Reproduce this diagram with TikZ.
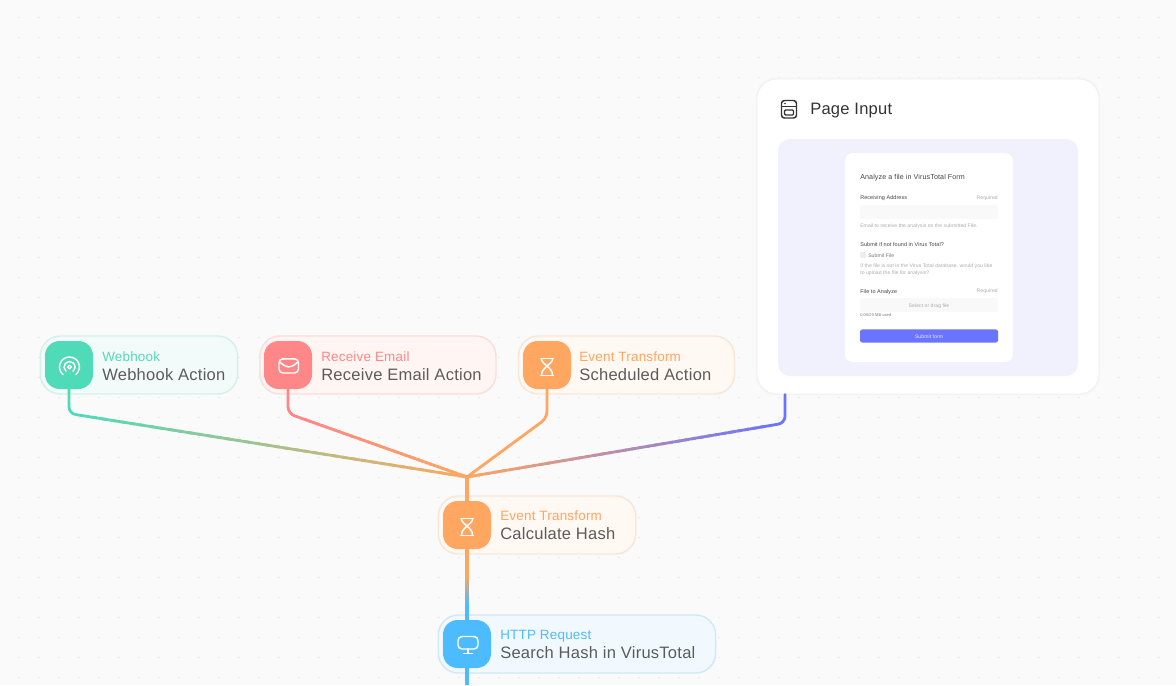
\documentclass[tikz,border=0pt]{standalone}
\usepackage{fontspec}
\usepackage{tikz}
\usetikzlibrary{calc}
\setmainfont[LetterSpace=1.5]{Liberation Sans}

\definecolor{pagebg}{HTML}{FAFAFA}
\definecolor{griddot}{HTML}{E8E8E8}
\definecolor{wirecol}{HTML}{6B74FF}
\definecolor{hookcol}{HTML}{50DBB8}
\definecolor{hookfill}{HTML}{F2FBFA}
\definecolor{hookedge}{HTML}{D5F0EA}
\definecolor{mailcol}{HTML}{FF8787}
\definecolor{mailfill}{HTML}{FFF5F3}
\definecolor{mailedge}{HTML}{FBDEDB}
\definecolor{timecol}{HTML}{FFA660}
\definecolor{timefill}{HTML}{FFF8F3}
\definecolor{timeedge}{HTML}{F8E6D8}
\definecolor{httpcol}{HTML}{4DBBFF}
\definecolor{httpfill}{HTML}{F1F9FE}
\definecolor{httpedge}{HTML}{CFE9F9}
\definecolor{namecol}{HTML}{5C5C5C}
\definecolor{panelcol}{HTML}{F1F1FD}
\definecolor{inputcol}{HTML}{F9F9F9}
\definecolor{hintcol}{HTML}{ABABAB}
\definecolor{labelcol}{HTML}{444444}

\tikzset{
  flowcard/.style={draw=#1edge, fill=#1fill, line width=1.1pt, rounded corners=15pt, inner sep=0pt, minimum height=43.5pt},
  flowicon/.style={fill=#1col, rounded corners=11pt, inner sep=0pt, minimum size=36pt},
  flowtitle/.style={text=#1col, anchor=base west, inner sep=0pt, font=\fontsize{10.1pt}{10pt}\selectfont},
  flowname/.style={text=namecol, anchor=base west, inner sep=0pt, font=\fontsize{12.4pt}{12pt}\selectfont},
  glyph/.style={draw=white, line width=1.1pt, line cap=round, line join=round},
  formtext/.style={inner sep=0pt, anchor=base west, text=labelcol, font=\fontsize{4.1pt}{4pt}\selectfont},
  formhint/.style={inner sep=0pt, anchor=base west, text=hintcol, font=\fontsize{3.8pt}{4pt}\selectfont},
  formbox/.style={fill=inputcol, rounded corners=1.2pt, inner sep=0pt, minimum width=103.5pt, minimum height=10.5pt},
  wire/.style={line width=2.1pt, line cap=round, line join=round},
  trunk/.style={line width=2.7pt, line cap=butt}
}

\newcommand\gradlink[4]{%
  \foreach \k in {0,...,39}{%
    \pgfmathsetmacro\pa{\k/40}%
    \pgfmathsetmacro\pb{min(1,(\k+1.5)/40)}%
    \pgfmathsetmacro\mixv{100*(\k+0.5)/40}%
    \draw [wire, line cap=butt, #4!\mixv!#3] ($(#1)!\pa!(#2)$) -- ($(#1)!\pb!(#2)$);
  }}
\newcommand\hourglass[1]{%
  \begin{scope}[shift={(#1)}]
    \draw [glyph] (-6.2,-8) -- (6.2,-8);
    \draw [glyph] (-6.2,9) -- (6.2,9);
    \draw [glyph] (-5.4,-8) -- (-5.4,-6.6) .. controls (-5.4,-3.5) and (5.4,2) .. (5.4,7.5) -- (5.4,9);
    \draw [glyph] (5.4,-8) -- (5.4,-6.6) .. controls (5.4,-3.5) and (-5.4,2) .. (-5.4,7.5) -- (-5.4,9);
  \end{scope}}

\begin{document}
\begin{tikzpicture}[x=0.75pt,y=-0.75pt]
  \fill [pagebg] (0,0) rectangle (1176,685);
  \useasboundingbox (0,0) rectangle (1176,685);
  \foreach \i in {0,...,58}
    \foreach \j in {0,...,33}
      \fill [griddot] (19+20*\i,17.5+20*\j) circle (0.8);

  \node (hookcard) [flowcard=hook, minimum width=148pt] at (139,365) {};
  \node (mailcard) [flowcard=mail, minimum width=177pt] at (378,365) {};
  \node (timecard) [flowcard=time, minimum width=162pt] at (626.5,365) {};
  \node (calccard) [flowcard=time, minimum width=148pt] at (537,525) {};
  \node (httpcard) [flowcard=http, minimum width=208pt] at (577,644) {};

  \node (hookicon) [flowicon=hook] at (69,365) {};
  \node (mailicon) [flowicon=mail] at (288,365) {};
  \node (timeicon) [flowicon=time] at (547,365) {};
  \node (calcicon) [flowicon=time] at (467,525) {};
  \node (httpicon) [flowicon=http] at (467,644) {};

  \node (hooktitle) [flowtitle=hook] at (102,361) {Webhook};
  \node (hookname) [flowname] at (102,380) {Webhook Action};
  \node (mailtitle) [flowtitle=mail] at (321,361) {Receive Email};
  \node (mailname) [flowname] at (321,380) {Receive Email Action};
  \node (timetitle) [flowtitle=time] at (579,361) {Event Transform};
  \node (timename) [flowname] at (579,380) {Scheduled Action};
  \node (calctitle) [flowtitle=time] at (500,520) {Event Transform};
  \node (calcname) [flowname] at (500,539) {Calculate Hash};
  \node (httptitle) [flowtitle=http] at (500,639) {HTTP Request};
  \node (httpname) [flowname] at (500,658) {Search Hash in VirusTotal};

  \draw [draw=black!4, line width=2.2pt, rounded corners=15pt] (757,79) rectangle (1099,394);
  \node (pagecard) [draw=black!6, fill=white, line width=0.6pt, rounded corners=15pt, inner sep=0pt, minimum width=256.5pt, minimum height=236.25pt] at (928,236.5) {};
  \node (pagepanel) [fill=panelcol, rounded corners=9pt, inner sep=0pt, minimum width=225pt, minimum height=177.75pt] at (928,257.5) {};
  \node (formcard) [fill=white, rounded corners=6pt, inner sep=0pt, minimum width=126pt, minimum height=156.75pt] at (929,257.5) {};
  \node (pagetitle) [anchor=base west, inner sep=0pt, text=black!80, font=\fontsize{12.4pt}{12pt}\selectfont] at (810,114) {Page Input};
  \draw [black!80, line width=1.1pt, rounded corners=2.2pt] (781.5,100.5) rectangle (796.5,118);
  \draw [black!80, line width=1.1pt] (781.5,106.5) -- (796.5,106.5);
  \draw [black!80, line width=1pt, rounded corners=0.8pt] (784.5,110) rectangle (793.5,115);
  \fill [black!80] (785,103.5) circle (0.9);

  \node (formtitle) [formtext, font=\fontsize{5.35pt}{5pt}\selectfont] at (860,179) {Analyze a file in VirusTotal Form};
  \node (addrlabel) [formtext] at (860,199) {Receiving Address};
  \node (addrreq) [formhint, anchor=base east] at (998,199) {Required};
  \node (addrbox) [formbox] at (929,212) {};
  \node (addrhint) [formhint] at (860,227) {Email to receive the analysis on the submitted File.};
  \node (sublabel) [formtext] at (860,246) {Submit if not found in Virus Total?};
  \node (subbox) [fill=black!7, rounded corners=0.8pt, inner sep=0pt, minimum size=4.5pt] at (863,255) {};
  \node (subtext) [formhint, text=black!55] at (868,257) {Submit File};
  \node (subhinta) [formhint] at (860,267) {If the file is not in the Virus Total database, would you like};
  \node (subhintb) [formhint] at (860,274) {to upload the file for analysis?};
  \node (filelabel) [formtext] at (860,293) {File to Analyze};
  \node (filereq) [formhint, anchor=base east] at (998,292) {Required};
  \node (filebox) [formbox] at (929,305) {};
  \node (filehint) [formhint, anchor=base] at (929,307) {Select or drag file};
  \node (fileused) [formhint, text=black!55, font=\fontsize{3pt}{3pt}\selectfont] at (860,316) {0.00/20 MB used};
  \node (submitbtn) [fill=wirecol, rounded corners=1.8pt, inner sep=0pt, minimum width=103.5pt, minimum height=10pt] at (929,336) {};
  \node (submittext) [formhint, anchor=base, text=white!85!wirecol] at (929,338) {Submit form};

  \coordinate (merge) at (467,477);
  \coordinate (hookturn) at (69,413.5);
  \coordinate (mailturn) at (288,413.5);
  \coordinate (timeturn) at (547,418);
  \coordinate (pageturn) at (785,423);
  \coordinate (pageout) at (785,394.5);
  \coordinate (hookleg) at ($(hookturn)!10pt!(merge)$);
  \coordinate (mailleg) at ($(mailturn)!10pt!(merge)$);
  \coordinate (timeleg) at ($(timeturn)!10pt!(merge)$);
  \coordinate (pageleg) at ($(pageturn)!10pt!(merge)$);

  \draw [wire, hookcol, rounded corners=5pt] (hookicon.south) -- (hookturn) -- (hookleg);
  \draw [wire, mailcol, rounded corners=5pt] (mailicon.south) -- (mailturn) -- (mailleg);
  \draw [wire, timecol, rounded corners=5pt] (timeicon.south) -- (timeturn) -- (timeleg);
  \draw [wire, wirecol, rounded corners=5pt] (pageout) -- (pageturn) -- (pageleg);
  \gradlink{hookleg}{merge}{hookcol}{timecol}
  \gradlink{mailleg}{merge}{mailcol}{timecol}
  \draw [wire, timecol] (timeleg) -- (merge);
  \gradlink{pageleg}{merge}{wirecol}{timecol}
  \draw [trunk, timecol] (merge) -- (calcicon.north);

  \coordinate (fadestart) at (467,575);
  \coordinate (fadeend) at (467,605);
  \coordinate (httpexit) at (467,685);
  \draw [trunk, timecol] (calcicon.south) -- (fadestart);
  \shade [top color=timecol, bottom color=httpcol] ($(fadestart)+(-1.8,0)$) rectangle ($(fadeend)+(1.8,0)$);
  \draw [trunk, httpcol] (fadeend) -- (httpicon.north);
  \draw [trunk, httpcol] (httpicon.south) -- (httpexit);

  % webhook glyph
  \draw [glyph] (63,374.6) arc (130:410:10);
  \draw [glyph] (66,371.2) arc (130:410:5.5);
  \draw [glyph] (69.5,367) circle (1.8);
  % envelope glyph
  \draw [glyph, rounded corners=3pt] (279,358.8) rectangle (298.5,373);
  \draw [glyph] (279.5,362) .. controls (284,365.5) and (286,367) .. (288.7,367) .. controls (291.5,367) and (293.5,365.5) .. (298,362);
  % hourglass glyphs
  \hourglass{547,366.5}
  \hourglass{467,526.5}
  % monitor glyph
  \draw [glyph, rounded corners=3pt] (458,636.5) rectangle (478,649);
  \draw [glyph] (468,649) -- (468,653.5);
  \draw [glyph] (463.5,653.5) -- (472.5,653.5);
\end{tikzpicture}
\end{document}
